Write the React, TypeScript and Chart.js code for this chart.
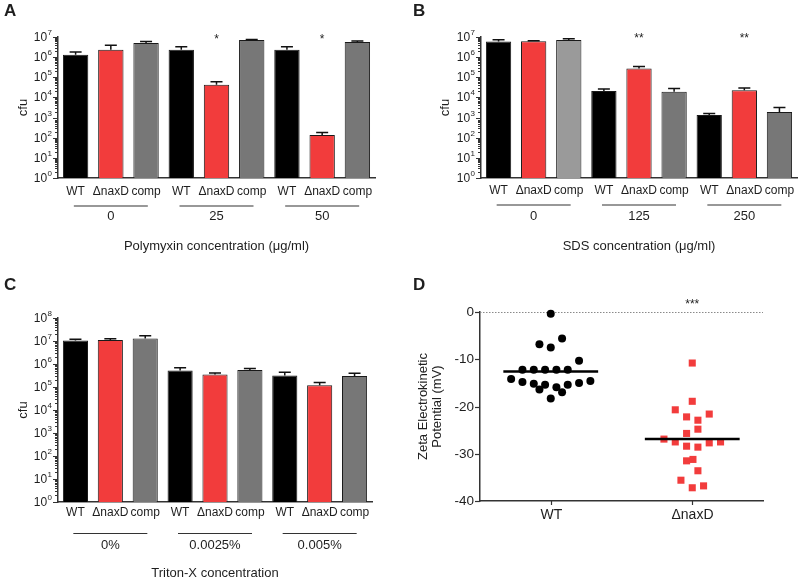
import React, { useEffect, useRef } from 'react';
import { Chart, registerables } from 'chart.js';

Chart.register(...registerables);

const FONT = '"Liberation Sans", Arial, Helvetica, sans-serif';
const TEXT = '#1e1e1e';

// ---------- shared ----------
const strainLabels = ['WT', 'ΔnaxD', 'comp', 'WT', 'ΔnaxD', 'comp', 'WT', 'ΔnaxD', 'comp'];
const cfuExpsSeven = [0, 1, 2, 3, 4, 5, 6, 7];
const cfuExpsEight = [0, 1, 2, 3, 4, 5, 6, 7, 8];

// ---------- Panel A : Polymyxin ----------
const polymyxinGroups = ['0', '25', '50'];
const polymyxinCfu = [1.3e6, 2.3e6, 5.0e6, 2.3e6, 4.3e4, 7.0e6, 2.3e6, 1.35e2, 5.6e6];
const polymyxinCfuUpper = [1.8e6, 3.9e6, 6.0e6, 3.3e6, 6.0e4, 7.6e6, 3.3e6, 1.8e2, 6.3e6];
const polymyxinStars = ['', '', '', '', '*', '', '', '*', ''];
const polymyxinColors = ['#000000', '#f23c3c', '#777777', '#000000', '#f23c3c', '#777777', '#000000', '#f23c3c', '#777777'];

// ---------- Panel B : SDS ----------
const sdsGroups = ['0', '125', '250'];
const sdsCfu = [5.9e6, 6.2e6, 7.1e6, 2.1e4, 2.7e5, 1.9e4, 1.35e3, 2.3e4, 1.9e3];
const sdsCfuUpper = [7.4e6, 6.6e6, 8.3e6, 2.6e4, 3.4e5, 2.8e4, 1.6e3, 2.9e4, 3.2e3];
const sdsStars = ['', '', '', '', '**', '', '', '**', ''];
const sdsColors = ['#000000', '#f23c3c', '#9a9a9a', '#000000', '#f23c3c', '#777777', '#000000', '#f23c3c', '#777777'];

// ---------- Panel C : Triton-X ----------
const tritonGroups = ['0%', '0.0025%', '0.005%'];
const tritonCfu = [1.05e7, 1.1e7, 1.3e7, 5.2e5, 3.5e5, 5.5e5, 3.2e5, 1.2e5, 3.0e5];
const tritonCfuUpper = [1.2e7, 1.25e7, 1.7e7, 6.8e5, 4.1e5, 6.3e5, 4.4e5, 1.55e5, 4.0e5];
const tritonStars = ['', '', '', '', '', '', '', '', ''];
const tritonColors = ['#000000', '#f23c3c', '#777777', '#000000', '#f23c3c', '#777777', '#000000', '#f23c3c', '#777777'];

// ---------- Panel D : Zeta potential ----------
const zetaGroups = ['WT', 'ΔnaxD'];
const zetaTicks = [0, -10, -20, -30, -40];
const zetaMeans = [-12.6, -26.9];
const wtZeta = [-0.35, -6.8, -7.5, -5.6, -10.3, -12.2, -12.2, -12.2, -12.2, -12.2, -14.2, -14.8, -15.2, -15.4, -16.4, -15.9, -15.4, -15.0, -14.6, -17.0, -18.3];
const wtJitter = [0, -0.08, 0, 0.08, 0.2, -0.2, -0.12, -0.04, 0.04, 0.12, -0.28, -0.2, -0.12, -0.04, -0.08, 0.04, 0.12, 0.2, 0.28, 0.08, 0];
const naxdZeta = [-10.8, -18.9, -20.7, -21.6, -22.2, -22.9, -24.8, -25.7, -26.9, -27.5, -27.5, -27.7, -28.4, -28.6, -31.5, -31.2, -33.6, -35.6, -37.2, -36.8];
const naxdJitter = [0, 0, -0.12, 0.12, -0.04, 0.04, 0.04, -0.04, -0.2, -0.12, 0.2, 0.12, -0.04, 0.04, -0.04, 0.005, 0.04, -0.08, 0, 0.08];
const zetaStars = '***';

type Area = { l: number; r: number; t: number; b: number };
type BarCfg = {
  left: number; top: number; width: number; height: number;
  area: Area;
  values: number[]; upper: number[]; colors: string[];
  labels: string[]; groups: string[]; stars: string[]; exps: number[];
  title: string; letter: string;
  letterX: number; letterY: number; yTitleX: number;
  labelY: number; groupLineY: number; groupLabelY: number; titleY: number; starY: number;
};

function drawPow10(ctx: CanvasRenderingContext2D, exp: number, xRight: number, y: number) {
  ctx.save();
  ctx.fillStyle = TEXT;
  ctx.textBaseline = 'middle';
  ctx.textAlign = 'left';
  ctx.font = `8px ${FONT}`;
  const ew = ctx.measureText(String(exp)).width;
  ctx.font = `12px ${FONT}`;
  const bw = ctx.measureText('10').width;
  const x0 = xRight - ew - bw - 0.5;
  ctx.fillText('10', x0, y + 0.5);
  ctx.font = `8px ${FONT}`;
  ctx.fillText(String(exp), x0 + bw + 0.5, y - 4.5);
  ctx.restore();
}

function text(ctx: CanvasRenderingContext2D, s: string, x: number, y: number, font: string, align: CanvasTextAlign = 'center') {
  ctx.save();
  ctx.fillStyle = TEXT;
  ctx.font = font;
  ctx.textAlign = align;
  ctx.textBaseline = 'middle';
  ctx.fillText(s, x, y);
  ctx.restore();
}

function BarPanel({ cfg }: { cfg: BarCfg }) {
  const ref = useRef<HTMLCanvasElement>(null);
  useEffect(() => {
    const c = cfg;
    const ox = c.left;
    const oy = c.top;
    const maxV = Math.pow(10, c.exps[c.exps.length - 1]);
    const plugin = {
      id: 'barExtras',
      afterDatasetsDraw(chart: any) {
        const ctx: CanvasRenderingContext2D = chart.ctx;
        const xs = chart.scales.x;
        const ys = chart.scales.y;
        const ca = chart.chartArea;
        ctx.save();
        // error bars
        ctx.strokeStyle = '#111';
        ctx.lineWidth = 1.5;
        c.values.forEach((v, i) => {
          const px = xs.getPixelForValue(i);
          const y0 = ys.getPixelForValue(v);
          const y1 = ys.getPixelForValue(c.upper[i]);
          ctx.beginPath();
          ctx.moveTo(px, y0);
          ctx.lineTo(px, y1);
          ctx.moveTo(px - 6, y1);
          ctx.lineTo(px + 6, y1);
          ctx.stroke();
        });
        // y ticks (major + minor)
        ctx.strokeStyle = '#333';
        ctx.lineWidth = 1;
        c.exps.forEach((e, idx) => {
          const py = Math.round(ys.getPixelForValue(Math.pow(10, e))) + 0.5;
          ctx.beginPath();
          ctx.moveTo(ca.left, py);
          ctx.lineTo(ca.left - 5, py);
          ctx.stroke();
          drawPow10(ctx, e, ca.left - 6, py);
          if (idx < c.exps.length - 1) {
            for (let k = 2; k <= 9; k++) {
              const my = Math.round(ys.getPixelForValue(k * Math.pow(10, e))) + 0.5;
              ctx.beginPath();
              ctx.moveTo(ca.left, my);
              ctx.lineTo(ca.left - 3, my);
              ctx.stroke();
            }
          }
        });
        // y title
        ctx.save();
        ctx.translate(c.yTitleX - ox, (ca.top + ca.bottom) / 2);
        ctx.rotate(-Math.PI / 2);
        text(ctx, 'cfu', 0, 0, `13px ${FONT}`);
        ctx.restore();
        // category labels & stars
        c.labels.forEach((lab, i) => {
          const px = xs.getPixelForValue(i);
          text(ctx, lab, px, c.labelY - oy, `12px ${FONT}`);
          if (c.stars[i]) text(ctx, c.stars[i], px, c.starY - oy + 2.5, `12px ${FONT}`);
        });
        // groups
        ctx.strokeStyle = '#333';
        ctx.lineWidth = 1.2;
        c.groups.forEach((g, gi) => {
          const mid = xs.getPixelForValue(gi * 3 + 1);
          ctx.beginPath();
          ctx.moveTo(mid - 37, c.groupLineY - oy);
          ctx.lineTo(mid + 37, c.groupLineY - oy);
          ctx.stroke();
          text(ctx, g, mid, c.groupLabelY - oy, `13px ${FONT}`);
        });
        // title
        text(ctx, c.title, (ca.left + ca.right) / 2, c.titleY - oy, `13px ${FONT}`);
        // panel letter
        text(ctx, c.letter, c.letterX - ox, c.letterY - oy, `bold 17px ${FONT}`, 'left');
        ctx.restore();
      },
    };
    const chart = new Chart(ref.current as HTMLCanvasElement, {
      type: 'bar',
      data: {
        labels: c.labels,
        datasets: [
          {
            data: c.values,
            backgroundColor: c.colors,
            borderColor: '#1a1a1a',
            borderWidth: 1,
            barPercentage: 0.72,
            categoryPercentage: 1,
          },
        ],
      },
      options: {
        responsive: false,
        maintainAspectRatio: false,
        animation: false,
        layout: {
          padding: {
            left: c.area.l - ox,
            right: ox + c.width - c.area.r,
            top: c.area.t - oy,
            bottom: oy + c.height - c.area.b,
          },
        },
        plugins: { legend: { display: false }, tooltip: { enabled: false } },
        scales: {
          x: {
            type: 'category',
            grid: { display: false },
            border: { display: true, color: '#333', width: 1.5 },
            ticks: { display: false },
            afterFit: (s: any) => { s.height = 0; },
          },
          y: {
            type: 'logarithmic',
            min: 1,
            max: maxV,
            grid: { display: false },
            border: { display: true, color: '#333', width: 1.5 },
            ticks: { display: false },
            afterFit: (s: any) => { s.width = 0; },
          },
        },
      } as any,
      plugins: [plugin],
    });
    return () => chart.destroy();
  }, [cfg]);
  return (
    <canvas
      ref={ref}
      width={cfg.width}
      height={cfg.height}
      style={{ position: 'absolute', left: cfg.left, top: cfg.top, width: cfg.width, height: cfg.height }}
    />
  );
}

const panelA: BarCfg = {
  left: 0, top: 0, width: 400, height: 270,
  area: { l: 58, r: 375, t: 37, b: 178 },
  values: polymyxinCfu, upper: polymyxinCfuUpper, colors: polymyxinColors,
  labels: strainLabels, groups: polymyxinGroups, stars: polymyxinStars, exps: cfuExpsSeven,
  title: 'Polymyxin concentration (μg/ml)', letter: 'A',
  letterX: 4, letterY: 11, yTitleX: 23,
  labelY: 191.5, groupLineY: 206, groupLabelY: 216.5, titleY: 246.5, starY: 37,
};

const panelB: BarCfg = {
  left: 400, top: 0, width: 400, height: 270,
  area: { l: 481, r: 797, t: 37, b: 178 },
  values: sdsCfu, upper: sdsCfuUpper, colors: sdsColors,
  labels: strainLabels, groups: sdsGroups, stars: sdsStars, exps: cfuExpsSeven,
  title: 'SDS concentration (μg/ml)', letter: 'B',
  letterX: 413, letterY: 11, yTitleX: 445,
  labelY: 191, groupLineY: 205, groupLabelY: 216, titleY: 246, starY: 36,
};

const panelC: BarCfg = {
  left: 0, top: 270, width: 400, height: 310,
  area: { l: 58, r: 372, t: 318, b: 502 },
  values: tritonCfu, upper: tritonCfuUpper, colors: tritonColors,
  labels: strainLabels, groups: tritonGroups, stars: tritonStars, exps: cfuExpsEight,
  title: 'Triton-X concentration', letter: 'C',
  letterX: 4, letterY: 285, yTitleX: 23,
  labelY: 513, groupLineY: 533.5, groupLabelY: 545.5, titleY: 573, starY: 310,
};

function ZetaPanel() {
  const ref = useRef<HTMLCanvasElement>(null);
  const left = 400, top = 270, width = 400, height = 310;
  const area: Area = { l: 480, r: 763, t: 312, b: 501 };
  useEffect(() => {
    const plugin = {
      id: 'zetaExtras',
      beforeDatasetsDraw(chart: any) {
        const ctx: CanvasRenderingContext2D = chart.ctx;
        const ys = chart.scales.y;
        const ca = chart.chartArea;
        const py = Math.round(ys.getPixelForValue(0)) + 0.5;
        ctx.save();
        ctx.strokeStyle = '#8a8a8a';
        ctx.lineWidth = 1;
        ctx.setLineDash([1.5, 1.5]);
        ctx.beginPath();
        ctx.moveTo(ca.left, py);
        ctx.lineTo(ca.right, py);
        ctx.stroke();
        ctx.restore();
      },
      afterDraw(chart: any) {
        const ctx: CanvasRenderingContext2D = chart.ctx;
        const xs = chart.scales.x;
        const ys = chart.scales.y;
        const ca = chart.chartArea;
        ctx.save();
        ctx.strokeStyle = '#333';
        ctx.lineWidth = 1.2;
        zetaTicks.forEach((t) => {
          const py = Math.round(ys.getPixelForValue(t)) + 0.5;
          ctx.beginPath();
          ctx.moveTo(ca.left, py);
          ctx.lineTo(ca.left - 5, py);
          ctx.stroke();
          text(ctx, String(t), ca.left - 6, py, `13.5px ${FONT}`, 'right');
        });
        zetaGroups.forEach((g, i) => {
          const px = Math.round(xs.getPixelForValue(i)) + 0.5;
          ctx.beginPath();
          ctx.moveTo(px, ca.bottom);
          ctx.lineTo(px, ca.bottom + 4);
          ctx.stroke();
          text(ctx, g, px, 515 - top, `14px ${FONT}`);
        });
        text(ctx, zetaStars, xs.getPixelForValue(1), 302 - top + 2.5, `12px ${FONT}`);
        ctx.save();
        ctx.translate(423 - left, (ca.top + ca.bottom) / 2);
        ctx.rotate(-Math.PI / 2);
        text(ctx, 'Zeta Electrokinetic', 0, 0, `13px ${FONT}`);
        ctx.restore();
        ctx.save();
        ctx.translate(437 - left, (ca.top + ca.bottom) / 2);
        ctx.rotate(-Math.PI / 2);
        text(ctx, 'Potential (mV)', 0, 0, `13px ${FONT}`);
        ctx.restore();
        text(ctx, 'D', 413 - left, 285 - top, `bold 17px ${FONT}`, 'left');
        ctx.restore();
      },
    };
    const half = 0.335;
    const chart = new Chart(ref.current as HTMLCanvasElement, {
      type: 'scatter',
      data: {
        datasets: [
          {
            data: [{ x: 0 - half, y: zetaMeans[0] }, { x: 0 + half, y: zetaMeans[0] }],
            showLine: true, borderColor: '#000', borderWidth: 2.5, pointRadius: 0, clip: false,
          },
          {
            data: [{ x: 1 - half, y: zetaMeans[1] }, { x: 1 + half, y: zetaMeans[1] }],
            showLine: true, borderColor: '#000', borderWidth: 2.5, pointRadius: 0, clip: false,
          },
          {
            data: wtZeta.map((v, i) => ({ x: 0 + wtJitter[i], y: v })),
            pointStyle: 'circle', pointRadius: 4, backgroundColor: '#000', borderWidth: 0, clip: false,
          },
          {
            data: naxdZeta.map((v, i) => ({ x: 1 + naxdJitter[i], y: v })),
            pointStyle: 'rect', pointRadius: 5, backgroundColor: '#f23c3c', borderWidth: 0, clip: false,
          },
        ],
      },
      options: {
        responsive: false,
        maintainAspectRatio: false,
        animation: false,
        layout: {
          padding: { left: area.l - left, right: left + width - area.r, top: area.t - top, bottom: top + height - area.b },
        },
        plugins: { legend: { display: false }, tooltip: { enabled: false } },
        scales: {
          x: {
            type: 'linear', min: -0.5, max: 1.5,
            grid: { display: false },
            border: { display: true, color: '#333', width: 1.5 },
            ticks: { display: false },
            afterFit: (s: any) => { s.height = 0; },
          },
          y: {
            type: 'linear', min: -40, max: 0,
            grid: { display: false },
            border: { display: true, color: '#333', width: 1.5 },
            ticks: { display: false },
            afterFit: (s: any) => { s.width = 0; },
          },
        },
      } as any,
      plugins: [plugin],
    });
    return () => chart.destroy();
  }, []);
  return (
    <canvas
      ref={ref}
      width={width}
      height={height}
      style={{ position: 'absolute', left, top, width, height }}
    />
  );
}

export default function App() {
  return (
    <div style={{ position: 'absolute', left: 0, top: 0, width: 800, height: 580, background: '#ffffff', overflow: 'hidden' }}>
      <BarPanel cfg={panelA} />
      <BarPanel cfg={panelB} />
      <BarPanel cfg={panelC} />
      <ZetaPanel />
    </div>
  );
}
